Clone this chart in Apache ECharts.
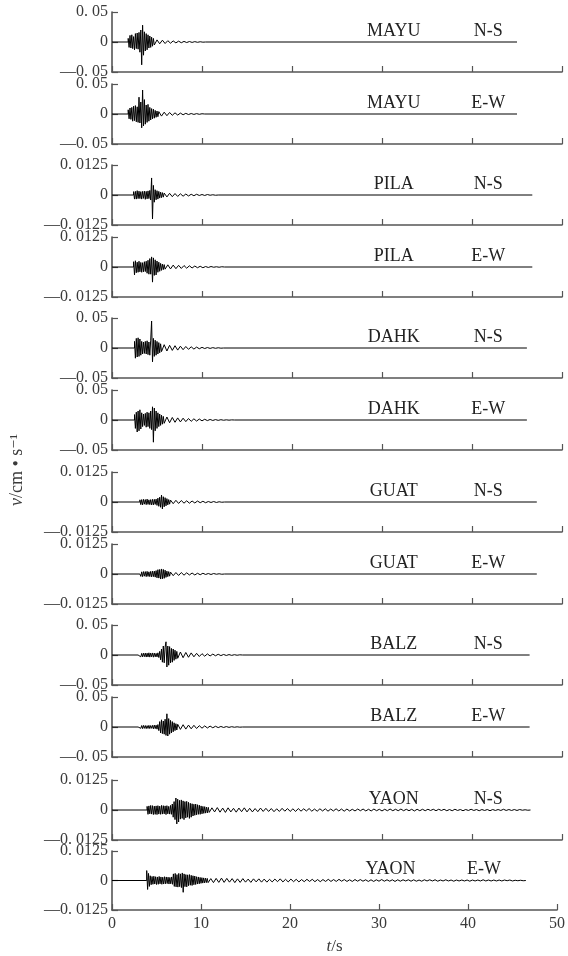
<!DOCTYPE html>
<html>
<head>
<meta charset="utf-8">
<script src="https://cdn.jsdelivr.net/npm/echarts@6/dist/echarts.min.js"></script>
<style>html,body{margin:0;padding:0;background:#fff}#main{width:568px;height:956px}</style>
</head>
<body>
<div id="main"></div>
<script>
// ---- chart content ----
const STATIONS   = ['MAYU','MAYU','PILA','PILA','DAHK','DAHK','GUAT','GUAT','BALZ','BALZ','YAON','YAON'];
const COMPONENTS = ['N-S','E-W','N-S','E-W','N-S','E-W','N-S','E-W','N-S','E-W','N-S','E-W'];
const Y_RANGE    = [0.05,0.05,0.0125,0.0125,0.05,0.05,0.0125,0.0125,0.05,0.05,0.0125,0.0125];
const ONSET      = [1.8,1.8,2.4,2.4,2.5,2.5,3.1,3.1,2.9,2.9,3.9,3.9];   // s
const END_T      = [45,45,46.7,46.7,46.1,46.1,47.2,47.2,46.4,46.4,46.5,46.5]; // s
const X_TICKS    = ['0','10','20','30','40','50'];
const Y_LABELS_005   = ['—0. 05','0','0. 05'];
const Y_LABELS_00125 = ['—0. 0125','0','0. 0125'];
const BURST_DT = 0.1;   // s between burst samples
const TAIL_DT  = 0.3;   // s between tail samples
const UNIT = 1e-4;      // values below are in 1e-4 cm/s

// burst samples (from onset, every 0.1 s)
const MAYU_NS_BURST = [60,-90,110,-100,120,-110,90,-130,140,-110,150,-120,160,-170,200,-380,280,-220,170,-150,140,-130,120,-100,100,-90,80,-70,60,-50];
const MAYU_EW_BURST = [70,-80,100,-90,110,-120,130,-110,140,-130,120,-140,280,-150,200,-230,400,-200,240,-170,150,-140,160,-120,110,-100,90,-80,80,-70,60,-55,50,-45,40];
const PILA_NS_BURST = [14,-17,15,-17,18,-15,16,-15,14,-17,15,-14,16,-18,15,-16,17,-15,19,-21,71,-100,40,-30,22,-20,18,-17,15,-13,12,-11,10,-9,8];
const PILA_EW_BURST = [22,-33,26,-24,20,-22,24,-20,19,-22,18,-20,22,-19,24,-26,28,-30,35,-30,42,-63,38,-35,30,-33,25,-22,20,-18,15,-14,12,-11,10,-9];
const DAHK_NS_BURST = [110,-170,160,-150,170,-140,150,-120,110,-100,100,-90,110,-100,120,-110,100,-120,130,450,-230,160,-140,130,-120,110,-100,90,-80,70,-60];
const DAHK_EW_BURST = [90,-140,130,-200,150,-180,170,-150,120,-110,100,-90,110,-120,130,-110,120,-140,150,-160,220,-370,200,-180,150,-140,120,-110,100,-90,80,-70,60,-55];
const GUAT_NS_BURST = [9,-11,10,-12,11,-9,10,-11,12,-10,9,-11,10,-12,11,-12,11,-10,12,-14,16,-18,20,-22,29,-29,22,-20,18,-16,14,-12,10,-9,8];
const GUAT_EW_BURST = [8,-10,9,-11,10,-9,10,-11,11,-10,9,-11,11,-12,12,-11,12,-13,14,-16,18,-17,19,-21,21,-20,19,-18,16,-14,12,-11,10,-9,8];
const BALZ_NS_BURST = [22,-27,32,-30,27,-32,30,-27,32,-34,30,-32,36,-35,32,-30,34,-36,32,-30,27,-32,36,-42,60,-80,100,-120,150,-130,130,220,-200,150,-170,140,-130,110,-120,100,-90,80,-70,60,-55];
const BALZ_EW_BURST = [20,-24,27,-22,24,-27,26,-22,24,-27,22,-24,27,-26,24,-22,27,-30,32,-27,30,-36,40,-60,90,-100,120,-110,100,-120,130,-140,220,-150,140,-120,110,-100,90,-80,70,-60,55,-50,45];
const YAON_NS_BURST = [15,-18,17,-16,19,-17,18,-19,16,-18,17,-19,18,-17,16,-18,19,-17,18,-16,17,-19,18,-16,15,-17,19,-18,
  25,-30,35,-40,50,-58,45,-50,40,-38,42,-35,38,-40,35,-33,36,-30,32,-35,28,-30,26,-25,24,-22,25,-20,22,-18,20,-18,17,-16,15,-14,14,-13,12,-12,11,-10];
const YAON_EW_BURST = [42,-38,30,-25,20,-18,17,-16,18,-15,16,-17,15,-16,17,-14,15,-16,14,-15,16,-14,15,-13,14,-15,13,-14,15,-16,
  28,-25,30,-27,25,-28,30,-26,28,-30,32,-50,28,-26,25,-27,24,-22,25,-20,22,-21,20,-18,19,-17,16,-15,15,-14,13,-12,12,-11,11,-10,10,-9,9,-9];

// tail samples (after the burst, every 0.3 s)
const MAYU_NS_TAIL = [35,-30,30,-25,22,-20,18,-15,14,-12,10,-9,8,-7,6,-5,4,-3];
const MAYU_EW_TAIL = [-35,30,-28,25,-22,20,-18,15,-13,11,-9,8,-7,6,-5,4];
const PILA_NS_TAIL = [-8,7,-7,6,-6,5,-5,4,-4,3,-3,3,-2,2,-2,2,-1,1,-1];
const PILA_EW_TAIL = [9,-8,8,-7,7,-6,6,-5,5,-4,4,-3,3,-3,2,-2,2,-1,1,-1,1];
const DAHK_NS_TAIL = [55,-50,45,-40,38,-35,30,-28,25,-22,20,-18,15,-13,11,-9,8,-7,6,-5,4,-3];
const DAHK_EW_TAIL = [50,-45,42,-38,35,-32,30,-27,25,-22,20,-18,16,-14,12,-10,9,-8,7,-6,5,-4,3,-3,2];
const GUAT_NS_TAIL = [-7,7,-6,6,-5,5,-5,4,-4,4,-3,3,-3,2,-2,2,-2,1,-1];
const GUAT_EW_TAIL = [-7,6,-6,6,-5,5,-4,4,-4,3,-3,3,-2,2,-2,2,-1,1,-1];
const BALZ_NS_TAIL = [50,-45,42,-38,35,-30,28,-25,22,-20,18,-16,15,-13,12,-10,9,-8,7,-6,5,-4,3];
const BALZ_EW_TAIL = [-40,38,-35,32,-30,28,-25,22,-20,18,-16,15,-13,12,-10,9,-8,7,-6,5,-4,3,-3];
const YAON_NS_TAIL = [9,-8,10,-9,8,-10,9,-8,7,-9,8,-7,9,-8,7,-8,6,-7,8,-6,7,-6,6,-7,5,-6,7,-5,6,-6,
  5,-6,6,-5,5,-4,6,-5,4,-5,5,-4,5,-5,4,-4,5,-4,4,-5,4,-4,3,-4,4,-3,4,-4,3,-4,4,-3,3,
  -4,3,-3,4,-3,3,-3,4,-3,3,-3,3,-4,3,-3,3,-3,3,-2,3,-3,3,-2,3,-3,2,-3,3,-2,2,-3,2,-2,
  3,-2,2,-3,2,-2,2,-3,2,-2,2,-2,3,-2,2,-2,2,-2,2,-1,1,-1];
const YAON_EW_TAIL = [8,-9,9,-8,10,-8,9,-7,8,-9,7,-8,8,-7,6,-8,7,-6,7,-7,6,-7,5,-6,6,-5,7,-6,5,-6,
  6,-5,5,-6,4,-5,5,-4,5,-5,4,-5,4,-4,5,-4,4,-4,5,-3,4,-4,3,-4,4,-3,4,-3,3,-4,3,-4,3,
  -3,4,-3,3,-3,3,-4,3,-3,3,-2,3,-3,3,-3,2,-3,3,-2,3,-2,3,-3,2,-2,3,-2,2,-3,2,-2,2,-2,
  2,-3,2,-2,2,-2,3,-2,2,-2,2,-2,2,-2,2,-1,2,-2,1,-1,1,-1];

const BURSTS = [MAYU_NS_BURST,MAYU_EW_BURST,PILA_NS_BURST,PILA_EW_BURST,DAHK_NS_BURST,DAHK_EW_BURST,GUAT_NS_BURST,GUAT_EW_BURST,BALZ_NS_BURST,BALZ_EW_BURST,YAON_NS_BURST,YAON_EW_BURST];
const TAILS  = [MAYU_NS_TAIL,MAYU_EW_TAIL,PILA_NS_TAIL,PILA_EW_TAIL,DAHK_NS_TAIL,DAHK_EW_TAIL,GUAT_NS_TAIL,GUAT_EW_TAIL,BALZ_NS_TAIL,BALZ_EW_TAIL,YAON_NS_TAIL,YAON_EW_TAIL];

// ---- layout ----
const PANEL_TOPS = [12,84,165,237,318,390,472,544,625,697,780,851];
const PANEL_H = 60, LEFT = 112, WIDTH = 450;
const AXIS_COLOR = '#555', TEXT_COLOR = '#3a3a3a', TRACE_COLOR = '#000';
const SERIF = '"Liberation Serif","DejaVu Serif",serif';

function buildTrace(i) {
  const pts = [[0, 0], [ONSET[i], 0]];
  const b = BURSTS[i];
  let t = ONSET[i];
  for (let k = 0; k < b.length; k++) {
    t = +(ONSET[i] + k * BURST_DT).toFixed(3);
    pts.push([t, b[k] * UNIT]);
  }
  const tb = t;
  const tl = TAILS[i];
  for (let k = 0; k < tl.length; k++) {
    t = +(tb + (k + 1) * TAIL_DT).toFixed(3);
    pts.push([t, tl[k] * UNIT]);
  }
  pts.push([+(t + TAIL_DT).toFixed(3), 0]);
  pts.push([END_T[i], 0]);
  return pts;
}

const N = STATIONS.length;
const grids = [], xAxes = [], yAxes = [], series = [];
for (let i = 0; i < N; i++) {
  const A = Y_RANGE[i];
  const labs = A === 0.05 ? Y_LABELS_005 : Y_LABELS_00125;
  const last = i === N - 1;
  grids.push({ left: LEFT, width: WIDTH, top: PANEL_TOPS[i], height: PANEL_H });
  xAxes.push({
    gridIndex: i, type: 'value', min: 0, max: 50, interval: 10,
    axisLine: { show: true, onZero: false, lineStyle: { color: AXIS_COLOR, width: 1.6 } },
    axisTick: { show: true, inside: true, length: 6, lineStyle: { color: AXIS_COLOR, width: 1.2 } },
    splitLine: { show: false },
    axisLabel: { show: last, margin: 6, fontFamily: SERIF, fontSize: 16, color: TEXT_COLOR,
      formatter: v => X_TICKS[Math.round(v / 10)] },
    name: last ? '{i|t}/s' : '',
    nameLocation: 'middle', nameGap: 28,
    nameTextStyle: { fontFamily: SERIF, fontSize: 17, color: TEXT_COLOR,
      rich: { i: { fontFamily: SERIF, fontStyle: 'italic', fontSize: 17, color: TEXT_COLOR } } }
  });
  yAxes.push({
    gridIndex: i, type: 'value', min: -A, max: A, interval: A,
    axisLine: { show: true, onZero: false, lineStyle: { color: AXIS_COLOR, width: 1.6 } },
    axisTick: { show: true, inside: true, length: 6, lineStyle: { color: AXIS_COLOR, width: 1.2 } },
    splitLine: { show: false },
    axisLabel: { margin: 4, fontFamily: SERIF, fontSize: 16, color: TEXT_COLOR,
      formatter: v => v === 0 ? labs[1] : (v > 0 ? labs[2] : labs[0]) }
  });
  series.push({
    type: 'line', xAxisIndex: i, yAxisIndex: i, data: buildTrace(i),
    showSymbol: false, symbol: 'none', sampling: null, animation: false,
    lineStyle: { color: TRACE_COLOR, width: 1 },
    markPoint: {
      silent: true, symbol: 'circle', symbolSize: 0, animation: false,
      label: { show: true, position: 'inside', offset: [0, -11], fontFamily: SERIF, fontSize: 18, color: '#222' },
      data: [
        { coord: [31.3, 0], label: { formatter: STATIONS[i] } },
        { coord: [41.8, 0], label: { formatter: COMPONENTS[i] } }
      ]
    }
  });
}

const chart = echarts.init(document.getElementById('main'), null, { renderer: 'canvas' });
chart.setOption({
  animation: false,
  backgroundColor: '#fff',
  grid: grids, xAxis: xAxes, yAxis: yAxes, series: series,
  graphic: [{
    type: 'text', x: 17, y: 470, rotation: Math.PI / 2,
    style: {
      text: '{i|v}/cm • s⁻¹',
      x: 0, y: 0, align: 'center', verticalAlign: 'middle',
      fontFamily: SERIF, fontSize: 18, fill: TEXT_COLOR,
      rich: { i: { fontFamily: SERIF, fontStyle: 'italic', fontSize: 18, fill: TEXT_COLOR } }
    }
  }]
});
</script>
</body>
</html>
